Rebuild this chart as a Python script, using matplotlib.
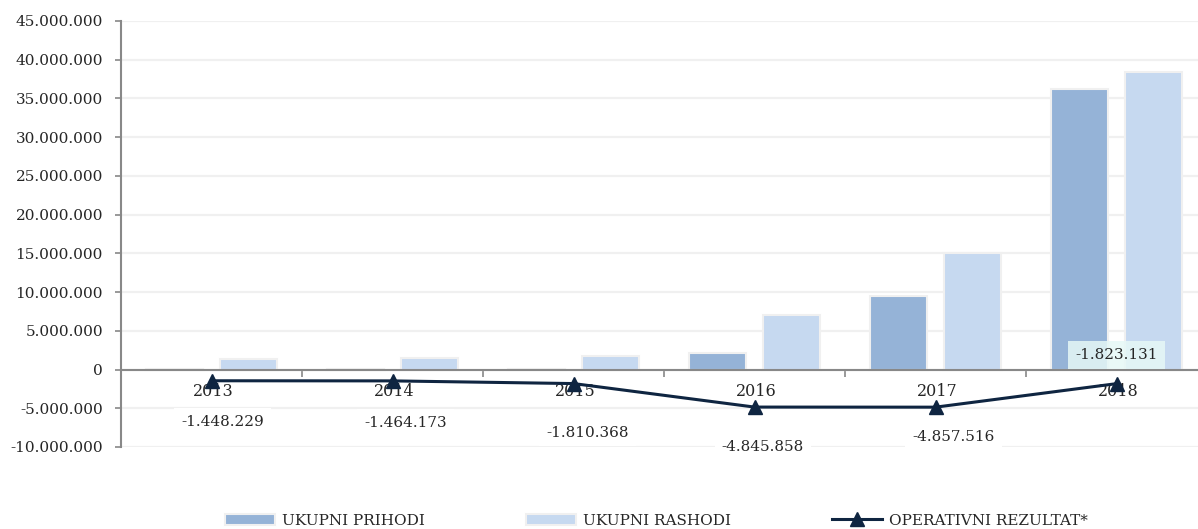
import numpy as np
import matplotlib
matplotlib.use("Agg")
import matplotlib.pyplot as plt
from matplotlib.ticker import FuncFormatter, FixedLocator

# Data
years = ["2013", "2014", "2015", "2016", "2017", "2018"]
prihodi = [0.10e6, 0.08e6, 0.10e6, 2.15e6, 9.45e6, 36.2e6]
rashodi = [1.38e6, 1.45e6, 1.80e6, 7.00e6, 15.1e6, 38.4e6]
rezultat = [-1448229, -1464173, -1810368, -4845858, -4857516, -1823131]

# Label offsets in pixels (dx, dy) relative to each point
label_dx = [11, 13, 14, 8, 18, 0]
label_dy = [-41, -42, -49, -40, -30, 29]

C_PRI = "#95b3d7"
C_RAS = "#c6d9f0"
C_LINE = "#0f2541"
C_EDGE = "#f0f0f0"
C_TEXT = "#262626"
FONT = "DejaVu Serif"


def thousands(v, _pos):
    return f"{int(round(v)):,}".replace(",", ".")


plt.rcParams["font.family"] = FONT
fig = plt.figure(figsize=(11.98, 5.29), dpi=100)
ax = fig.add_axes([121 / 1198, 82 / 529, 1086 / 1198, 426 / 529])

x = np.arange(len(years))
bw = 0.315
off = 0.2017
b1 = ax.bar(x - off, prihodi, bw, color=C_PRI, edgecolor=C_EDGE, linewidth=1.5,
            zorder=2, label="UKUPNI PRIHODI")
b2 = ax.bar(x + off, rashodi, bw, color=C_RAS, edgecolor=C_EDGE, linewidth=1.5,
            zorder=2, label="UKUPNI RASHODI")
ln, = ax.plot(x, rezultat, color=C_LINE, lw=2.2, marker="^", markersize=10,
              zorder=5, label="OPERATIVNI REZULTAT*")

ax.set_xlim(-0.5, len(years) - 0.5)
ax.set_ylim(-10e6, 45e6)
ax.yaxis.set_major_locator(FixedLocator(np.arange(-10e6, 45e6 + 1, 5e6)))
ax.yaxis.set_major_formatter(FuncFormatter(thousands))
ax.yaxis.grid(True, color="#f0f0f0", lw=1.6)
ax.set_axisbelow(True)

for s in ["top", "right"]:
    ax.spines[s].set_visible(False)
ax.spines["left"].set_color("#888888")
ax.spines["left"].set_linewidth(1.5)
ax.spines["bottom"].set_position(("data", 0))
ax.spines["bottom"].set_color("#888888")
ax.spines["bottom"].set_linewidth(1.5)
ax.spines["bottom"].set_zorder(3)

ax.set_xticks(x[:-1] + 0.5)
ax.set_xticklabels([])
ax.tick_params(axis="x", length=5, width=1.2, color="#888888", direction="out")
ax.tick_params(axis="y", length=4, width=1.2, color="#888888", pad=9,
               labelsize=11, labelcolor=C_TEXT)

# Year labels just below the zero line
for i, yr in enumerate(years):
    ax.annotate(yr, (i, 0), xytext=(2, -22), textcoords="offset pixels",
                ha="center", va="center", fontsize=11.5, color=C_TEXT, zorder=4)

# Data labels for the operating result
for i, v in enumerate(rezultat):
    face = "#e6f8f6" if label_dy[i] > 0 else "white"
    alpha = 0.85 if label_dy[i] > 0 else 1.0
    ax.annotate(thousands(v, None), (i, v), xytext=(label_dx[i], label_dy[i]),
                textcoords="offset pixels", ha="center", va="center",
                fontsize=11, color=C_TEXT, zorder=6,
                bbox=dict(boxstyle="square,pad=0.45", fc=face, ec="none",
                          alpha=alpha))

fig.legend([b1, b2, ln], ["UKUPNI PRIHODI", "UKUPNI RASHODI", "OPERATIVNI REZULTAT*"],
           loc="center", bbox_to_anchor=(0.548, 0.016), ncol=3, frameon=False,
           fontsize=11, handlelength=3.3, handletextpad=0.45,
           columnspacing=6.6, labelcolor=C_TEXT)

fig.savefig("out.png", dpi=100)
